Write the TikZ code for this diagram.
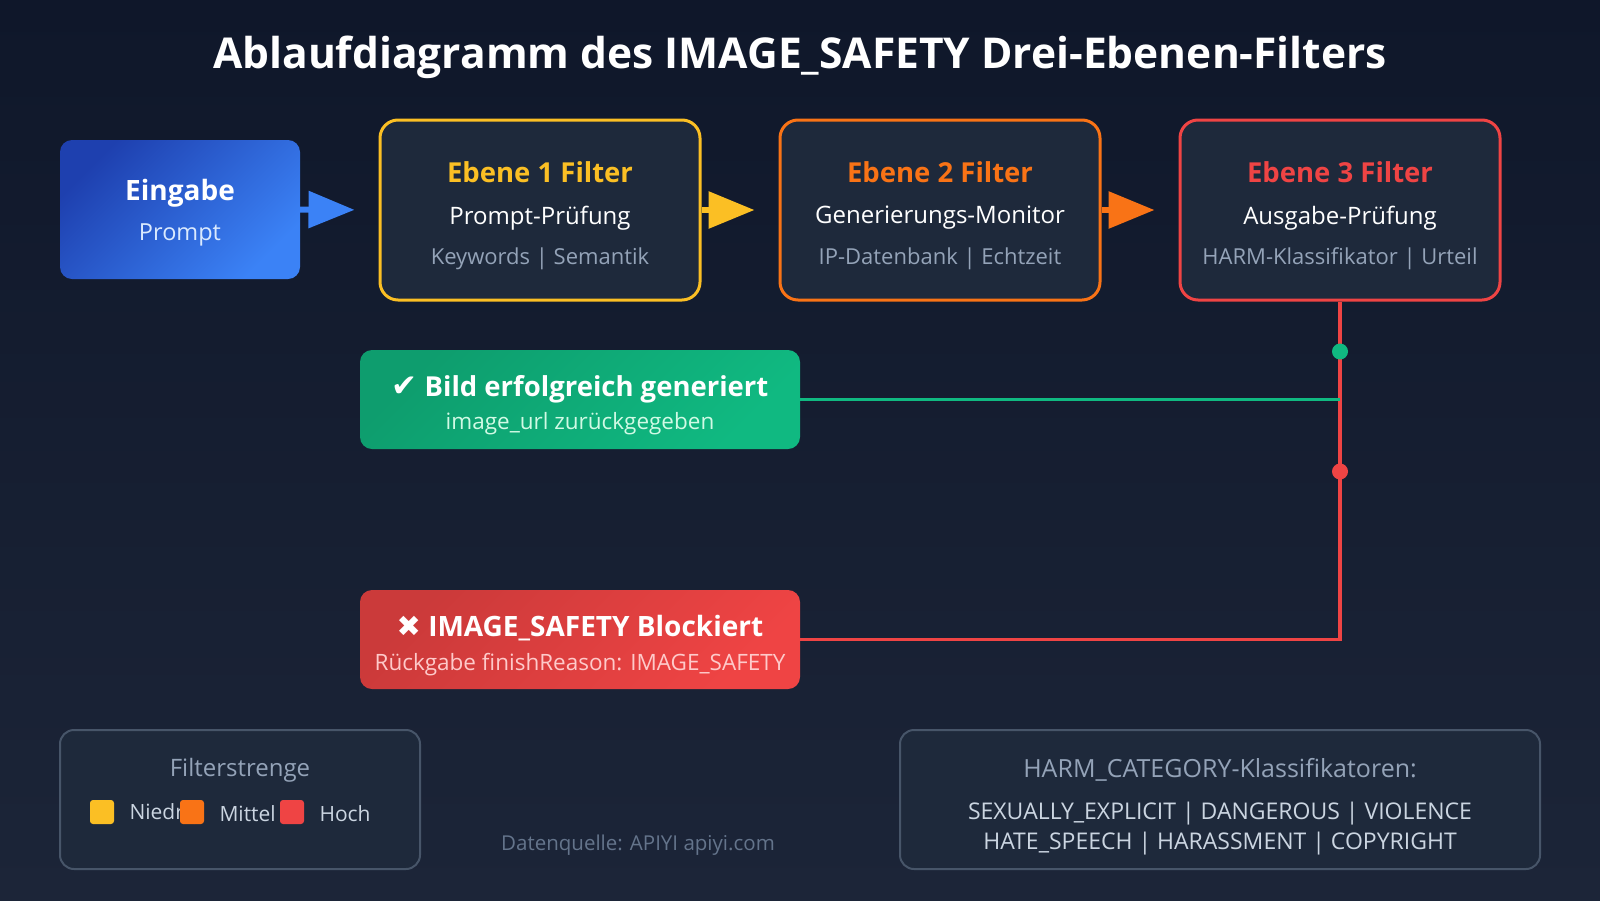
\documentclass[tikz,border=0pt]{standalone}
\usepackage{fontspec}
\setmainfont{Open Sans}
\newfontfamily\symfont{DejaVu Sans}
\usetikzlibrary{arrows.meta,positioning}
\definecolor{bgtop}{HTML}{0F172A}
\definecolor{bgbot}{HTML}{1C2538}
\definecolor{panel}{HTML}{1E293B}
\definecolor{edge}{HTML}{475569}
\definecolor{inblue}{HTML}{3B82F6}
\definecolor{indark}{HTML}{1E40AF}
\definecolor{inlight}{HTML}{DBEAFE}
\definecolor{lowc}{HTML}{FBBF24}
\definecolor{midc}{HTML}{F97316}
\definecolor{highc}{HTML}{EF4444}
\definecolor{highlight}{HTML}{FECACA}
\definecolor{okc}{HTML}{10B981}
\definecolor{oklight}{HTML}{D1FAE5}
\definecolor{mutec}{HTML}{94A3B8}
\definecolor{lightc}{HTML}{CBD5E1}
\definecolor{srcc}{HTML}{64748B}
\newcommand{\pxsize}[1]{\fontsize{#1}{#1}\selectfont}
\tikzset{
  stage/.style={draw=#1, line width=3pt, fill=panel, rounded corners=18pt,
    minimum width=320pt, minimum height=180pt},
  stitle/.style={font=\bfseries\pxsize{27.5}},
  ssub/.style={font=\pxsize{24}, text=white},
  snote/.style={font=\pxsize{22}, text=mutec},
  flow/.style={draw=#1, line width=6pt, shorten >=24pt,
    -{Triangle[length=46pt,width=36pt,fill=#1]}},
  result/.style={rounded corners=12pt, minimum width=440pt, minimum height=99pt,
    top color=#1!85!black, bottom color=#1, shading angle=45},
  hline/.style={draw=#1, line width=3.5pt},
  dot/.style={circle, fill=#1, minimum size=16pt, inner sep=0pt},
  legend/.style={draw=edge, line width=2pt, fill=panel, rounded corners=14pt,
    minimum height=139pt},
  swatch/.style={fill=#1, rounded corners=3pt, minimum size=24pt, inner sep=0pt}
}
\begin{document}
\begin{tikzpicture}[x=1pt,y=-1pt]
\useasboundingbox (0,0) rectangle (1600,900);
\shade[top color=bgtop, bottom color=bgbot] (0,0) rectangle (1600,900);

% Titel
\node[font=\bfseries\pxsize{42.5}, text=white] (title) at (800,57)
  {Ablaufdiagramm des IMAGE\_SAFETY Drei-Ebenen-Filters};

% Eingabe
\node[rounded corners=12pt, minimum width=240pt, minimum height=139pt,
  top color=indark, bottom color=inblue, shading angle=45] (input) at (180,209.5) {};
\node[font=\bfseries\pxsize{28}, text=white] (inT) at (180,193) {Eingabe};
\node[font=\pxsize{23.5}, text=inlight] (inS) at (180,235) {Prompt};

% drei Ebenen
\node[stage=lowc] (l1) at (540,210) {};
\node[stitle, text=lowc] (l1t) at (540,172) {Ebene 1 Filter};
\node[ssub] (l1s) at (540,218) {Prompt-Prüfung};
\node[snote] (l1n) at (540,259) {Keywords | Semantik};

\node[stage=midc] (l2) at (940,210) {};
\node[stitle, text=midc] (l2t) at (940,172) {Ebene 2 Filter};
\node[ssub] (l2s) at (940,218) {Generierungs-Monitor};
\node[snote] (l2n) at (940,259) {IP-Datenbank | Echtzeit};

\node[stage=highc] (l3) at (1340,210) {};
\node[stitle, text=highc] (l3t) at (1340,172) {Ebene 3 Filter};
\node[ssub] (l3s) at (1340,218) {Ausgabe-Prüfung};
\node[snote] (l3n) at (1340,259) {HARM-Klassifikator | Urteil};

\draw[flow=inblue] (input.east) -- (l1.west);
\draw[flow=lowc] (l1.east) -- (l2.west);
\draw[flow=midc] (l2.east) -- (l3.west);

% Ergebnisse
\node[result=okc] (ok) at (580,399.5) {};
\node[font=\bfseries\pxsize{27.5}, text=white] (okT) at (580,389)
  {{\symfont\pxsize{31}✔} Bild erfolgreich generiert};
\node[font=\pxsize{22.5}, text=oklight] (okS) at (580,424) {image\_url zurückgegeben};

\node[result=highc] (blocked) at (580,639.5) {};
\node[font=\bfseries\pxsize{28}, text=white] (blT) at (580,628)
  {{\symfont\pxsize{29}✖} IMAGE\_SAFETY Blockiert};
\node[font=\pxsize{22.5}, text=highlight] (blS) at (580,665)
  {Rückgabe finishReason: IMAGE\_SAFETY};

\draw[hline=highc] (l3.south) |- (blocked.east);
\draw[hline=okc] (l3.south |- ok.east) -- (ok.east);
\node[dot=okc] (okdot) at ([yshift=-50pt]l3.south) {};
\node[dot=highc] (nodot) at ([yshift=-170pt]l3.south) {};

% Legende
\node[legend, minimum width=360pt] (keybox) at (240,799.5) {};
\node[font=\pxsize{24}, text=mutec] (keyT) at (240,770) {Filterstrenge};
\node[swatch=lowc] (sw1) at (102,812) {};
\node[font=\pxsize{21}, text=lightc, anchor=west] (sw1t) at (126,814) {Niedrig};
\node[swatch=midc] (sw2) at (192,812) {};
\node[font=\pxsize{21}, text=lightc, anchor=west] (sw2t) at (216,814) {Mittel};
\node[swatch=highc] (sw3) at (292,812) {};
\node[font=\pxsize{21}, text=lightc, anchor=west] (sw3t) at (316,814) {Hoch};

\node[font=\pxsize{20.5}, text=srcc] (src) at (638,845) {Datenquelle: APIYI apiyi.com};

\node[legend, minimum width=640pt] (harm) at (1220,799.5) {};
\node[font=\pxsize{25}, text=mutec] (harmT) at (1220,770) {HARM\_CATEGORY-Klassifikatoren:};
\node[font=\pxsize{23}, text=lightc] (harm1) at (1220,814)
  {SEXUALLY\_EXPLICIT | DANGEROUS | VIOLENCE};
\node[font=\pxsize{23}, text=lightc] (harm2) at (1220,844)
  {HATE\_SPEECH | HARASSMENT | COPYRIGHT};
\end{tikzpicture}
\end{document}
